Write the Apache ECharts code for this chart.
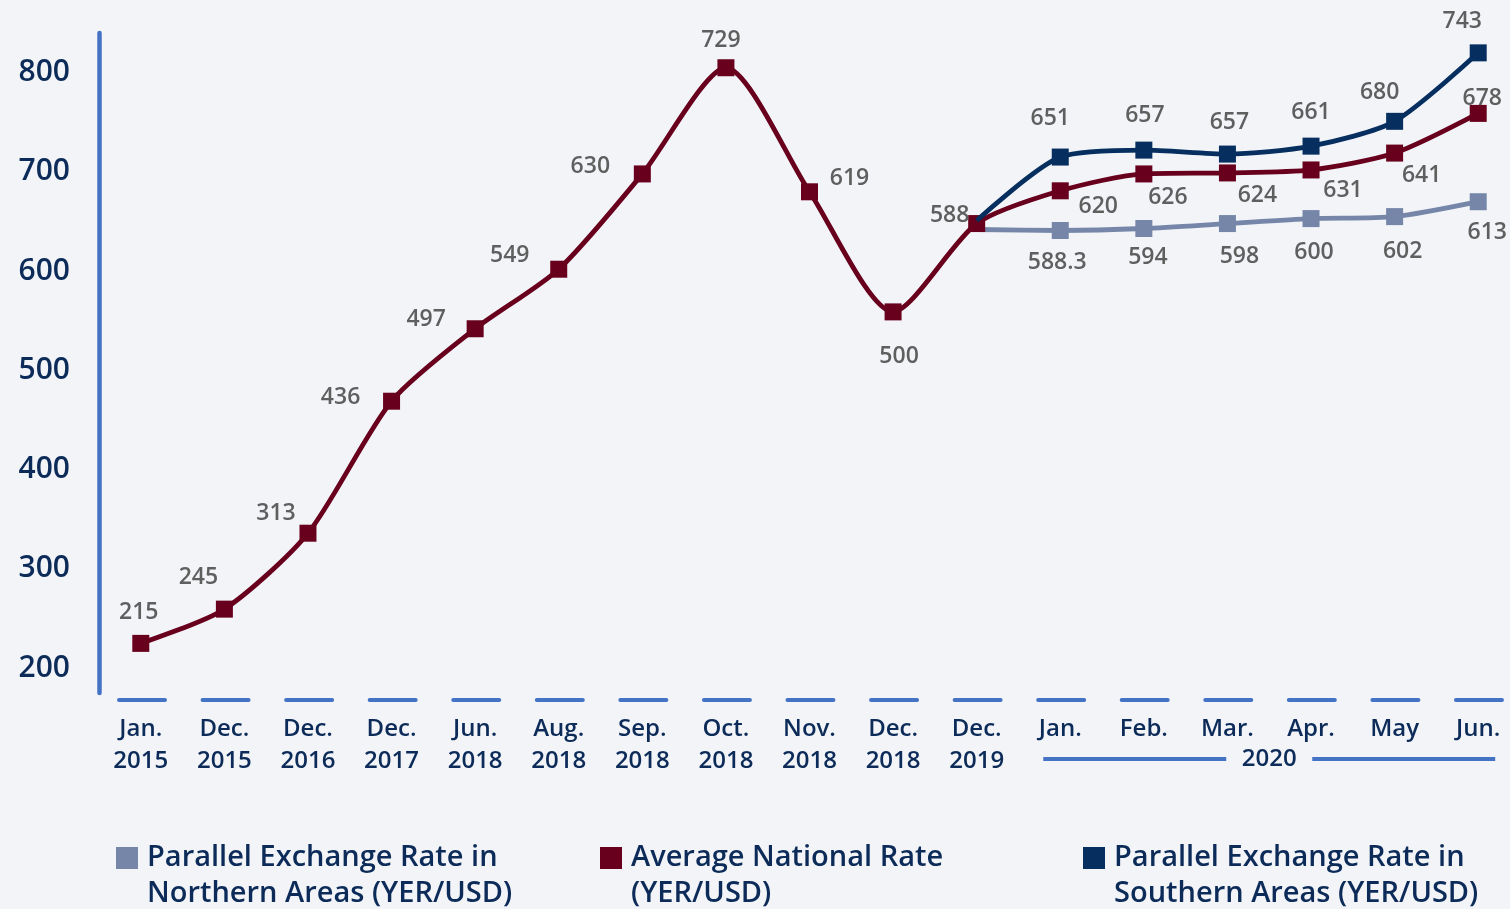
<!DOCTYPE html>
<html>
<head>
<meta charset="utf-8">
<script src="https://cdn.jsdelivr.net/npm/echarts@6/dist/echarts.min.js"></script>
<style>
  html, body { margin: 0; padding: 0; background: #f2f4f8; }
  #chart { width: 1510px; height: 909px; }
</style>
</head>
<body>
<div id="chart"></div>
<script>
// categories on the x axis (2020 months get a shared year bracket)
var categories = ['Jan.\n2015', 'Dec.\n2015', 'Dec.\n2016', 'Dec.\n2017', 'Jun.\n2018', 'Aug.\n2018',
  'Sep.\n2018', 'Oct.\n2018', 'Nov.\n2018', 'Dec.\n2018', 'Dec.\n2019',
  'Jan.', 'Feb.', 'Mar.', 'Apr.', 'May', 'Jun.']
var yearLabel = '2020'
var yTicks = [200, 300, 400, 500, 600, 700, 800]

// plotted positions and the printed labels
var nationalValues = [225, 259.5, 336, 469, 542, 602, 698, 805, 680, 559, 648, 681, 698, 699, 702, 719, 759]
var nationalLabels = [215, 245, 313, 436, 497, 549, 630, 729, 619, 500, 588, 620, 626, 624, 631, 641, 678]

var southernValues = [null, null, null, null, null, null, null, null, null, null, 651, 715, 722, 718, 726, 751, 820]
var southernLabels = [null, null, null, null, null, null, null, null, null, null, null, 651, 657, 657, 661, 680, 743]

var northernValues = [null, null, null, null, null, null, null, null, null, null, 642, 641, 643, 648, 653, 655, 670]
var northernLabels = [null, null, null, null, null, null, null, null, null, null, null, '588.3', 594, 598, 600, 602, 613]

var names = {
  north: 'Parallel Exchange Rate in\nNorthern Areas (YER/USD)',
  national: 'Average National Rate\n(YER/USD)',
  south: 'Parallel Exchange Rate in\nSouthern Areas (YER/USD)'
}

// label offsets from the marker centre
var nationalOffsets = [[-2, -31], [-26, -32], [-32, -20], [-51, -4], [-49, -9], [-49, -14], [-52, -7], [-5, -27],
  [40, -13], [6, 45], [-27, -8], [38, 16], [24, 24], [30, 23], [32, 20], [27, 22], [4, -15]]
var southernOffsets = [null, null, null, null, null, null, null, null, null, null, null,
  [-10, -39], [1, -35], [2, -32], [0, -34], [-15, -29], [-16, -31]]
var northernOffsets = [null, null, null, null, null, null, null, null, null, null, null,
  [-3, 32], [4, 29], [12, 33], [3, 34], [8, 35], [9, 31]]

var FONT = '"Open Sans"'
var NAVY = '#0c2b59'
var BLUE = '#4472c4'
var LABEL_GREY = '#5f5f5f'

function buildData(values, labels, offsets) {
  return values.map(function (v, i) {
    if (v === null) return v
    var item = { value: v }
    if (labels[i] === null) {
      item.symbolSize = 0
      item.label = { show: false }
    } else {
      item.label = { offset: offsets[i] }
    }
    return item
  })
}

function lineSeries(name, color, values, labels, offsets, z) {
  return {
    name: name,
    type: 'line',
    smooth: 0.25,
    z: z,
    symbol: 'rect',
    symbolSize: 17,
    showAllSymbol: true,
    lineStyle: { width: 4.8, color: color },
    itemStyle: { color: color },
    label: {
      show: true,
      position: 'inside',
      fontFamily: FONT,
      fontSize: 23,
      fontWeight: 600,
      color: LABEL_GREY,
      formatter: function (p) {
        var l = labels[p.dataIndex]
        return l === null ? '' : String(l)
      }
    },
    emphasis: { disabled: true },
    animation: false,
    data: buildData(values, labels, offsets)
  }
}

function legendItem(name, left) {
  return {
    data: [name],
    left: left,
    top: 804,
    padding: 0,
    orient: 'horizontal',
    icon: 'rect',
    itemWidth: 22,
    itemHeight: 22,
    selectedMode: false,
    formatter: function (n) { return '\n' + n },
    textStyle: {
      fontFamily: FONT,
      fontSize: 29,
      fontWeight: 600,
      color: NAVY,
      lineHeight: 36,
      padding: [0, 0, 0, 4]
    }
  }
}

var chart = echarts.init(document.getElementById('chart'))
chart.setOption({
  backgroundColor: '#f2f4f8',
  animation: false,
  grid: { left: 99, top: 33, width: 1421, bottom: 216, containLabel: false, outerBoundsMode: 'none' },
  legend: [
    legendItem(names.north, 116),
    legendItem(names.national, 600),
    legendItem(names.south, 1083)
  ],
  xAxis: {
    type: 'category',
    data: categories,
    boundaryGap: true,
    offset: 7,
    axisLine: {
      show: true,
      lineStyle: { color: BLUE, width: 4, type: [46, 37.56], dashOffset: 63.56 }
    },
    axisTick: { show: false },
    axisLabel: {
      interval: 0,
      margin: 13,
      fontFamily: FONT,
      fontSize: 24,
      fontWeight: 600,
      color: NAVY,
      lineHeight: 32
    }
  },
  yAxis: {
    type: 'value',
    min: 175,
    max: 840,
    interval: 25,
    axisLine: { show: true, lineStyle: { color: BLUE, width: 4.5 } },
    axisTick: { show: false },
    splitLine: { show: false },
    axisLabel: {
      margin: 29,
      fontFamily: FONT,
      fontSize: 30,
      fontWeight: 600,
      color: NAVY,
      showMaxLabel: false,
      formatter: function (v) { return yTicks.indexOf(v) >= 0 ? String(v) : '' }
    }
  },
  series: [
    lineSeries(names.north, '#7586a8', northernValues, northernLabels, northernOffsets, 2),
    lineSeries(names.national, '#68001d', nationalValues, nationalLabels, nationalOffsets, 3),
    lineSeries(names.south, '#062f60', southernValues, southernLabels, southernOffsets, 4)
  ]
})

// year bracket under the 2020 months
var firstIdx = categories.indexOf('Jan.')
var lastIdx = categories.length - 1
var x0 = chart.convertToPixel({ xAxisIndex: 0 }, firstIdx) - 17
var x1 = chart.convertToPixel({ xAxisIndex: 0 }, lastIdx) + 17
var mid = (x0 + x1) / 2
var yb = 759
chart.setOption({
  graphic: [
    { type: 'line', shape: { x1: x0, y1: yb, x2: mid - 43, y2: yb }, style: { stroke: BLUE, lineWidth: 4 } },
    { type: 'line', shape: { x1: mid + 43, y1: yb, x2: x1, y2: yb }, style: { stroke: BLUE, lineWidth: 4 } },
    {
      type: 'text', x: mid, y: yb,
      style: { text: yearLabel, fontFamily: FONT, fontSize: 24, fontWeight: 600, fill: NAVY, align: 'center', verticalAlign: 'middle' }
    }
  ]
})
</script>
</body>
</html>
